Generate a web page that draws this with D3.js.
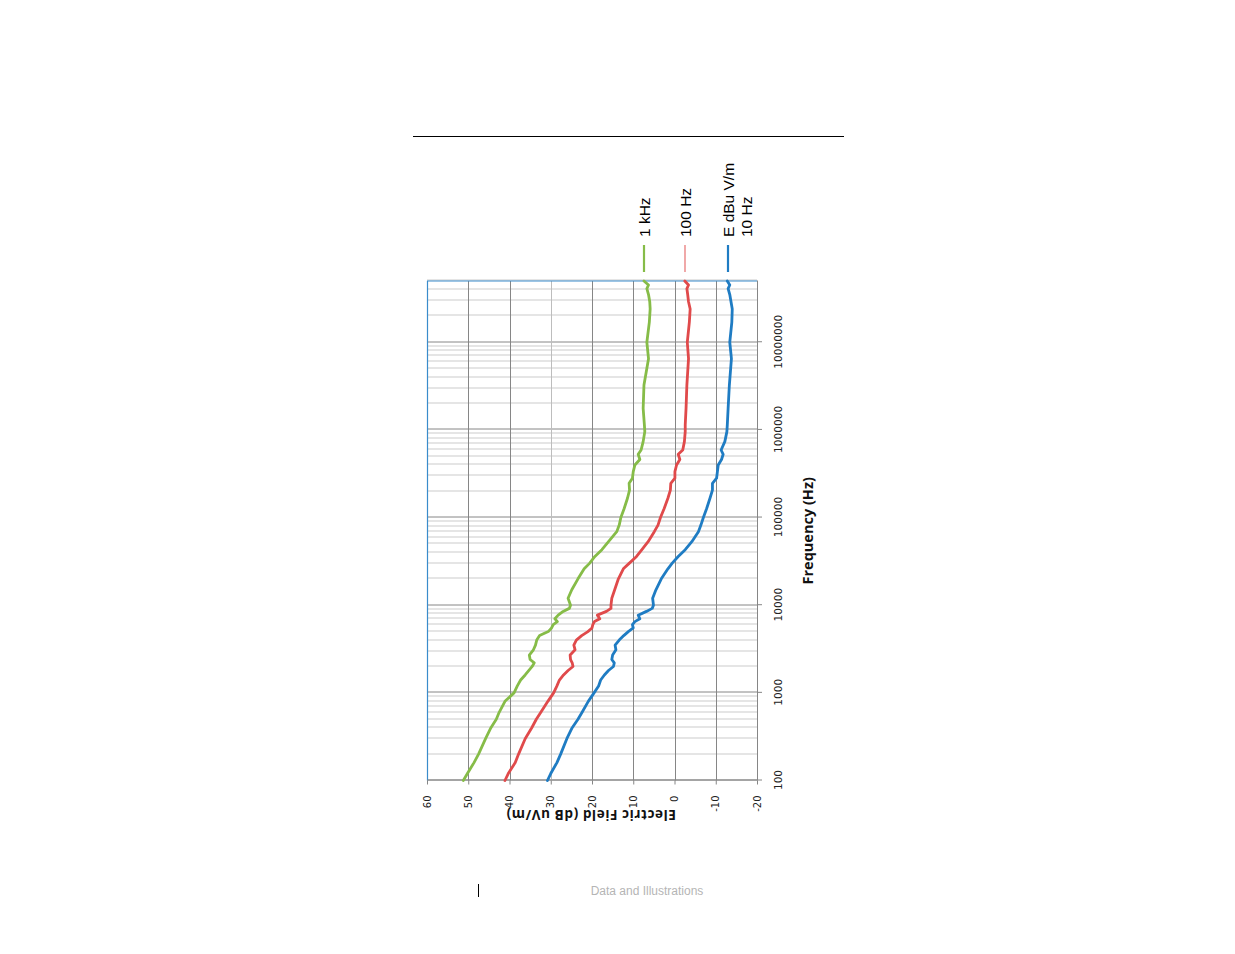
<!DOCTYPE html>
<html>
<head>
<meta charset="utf-8">
<script src="https://d3js.org/d3.v7.min.js"></script>
<style>
    html, body { margin: 0; padding: 0; background: #fff; }
    svg { display: block; }
</style>
</head>
<body>
<script>
// frequency points (Hz)
var freqHz = [100, 120, 160, 200, 300, 400, 500, 600, 800, 1000,
    1200, 1400, 1600, 1800, 2000, 2200, 2400, 2700, 3100, 3500,
    4000, 4500, 5000, 5500, 6000, 6500, 7000, 7700, 8500, 9200,
    10000, 12000, 15000, 20000, 26000, 30000, 36000, 43000, 53000, 69000,
    82000, 100000, 127000, 166000, 206000, 246000, 281000, 334000, 398000, 460000,
    527000, 590000, 735000, 956000, 1140000, 1760000, 3250000, 6500000, 10000000, 17000000,
    24000000, 29000000, 35000000, 41000000, 45000000, 50000000];

// electric field, dB uV/m
var kHz1 = [51.2, 50.2, 48.6, 47.5, 45.8, 44.5, 43.2, 42.5, 41.1, 38.9,
    38.1, 37.3, 36.2, 35.3, 34.5, 34.0, 35.0, 35.2, 34.2, 33.7,
    33.4, 32.7, 30.6, 29.8, 29.4, 28.4, 29.0, 28.2, 27.0, 25.5,
    25.2, 25.8, 24.9, 23.4, 21.9, 20.6, 19.3, 17.6, 16.0, 14.0,
    13.4, 13.0, 12.2, 11.4, 10.9, 11.0, 10.2, 10.0, 9.6, 8.4,
    8.8, 8.1, 7.6, 7.2, 7.3, 7.6, 7.4, 6.3, 6.7, 6.1,
    5.9, 6.0, 6.3, 6.7, 6.3, 7.4];

var hz100 = [41.1, 40.3, 38.6, 37.8, 36.2, 34.6, 33.5, 32.4, 30.7, 29.3,
    28.5, 27.9, 26.9, 25.8, 24.6, 24.8, 25.2, 25.3, 24.1, 24.4,
    23.8, 22.5, 21.0, 20.0, 19.8, 19.4, 18.1, 18.7, 16.5, 15.4,
    15.4, 15.2, 14.5, 13.6, 12.4, 11.0, 9.2, 7.9, 6.4, 4.9,
    4.0, 3.4, 2.5, 1.6, 1.0, 0.9, -0.1, -0.1, -0.5, -1.3,
    -0.9, -2.0, -2.4, -2.6, -2.6, -2.8, -3.0, -3.4, -3.1, -3.6,
    -3.8, -3.4, -3.2, -3.0, -3.4, -2.5];

var hz10 = [30.8, 30.0, 28.5, 27.6, 26.1, 24.8, 23.4, 22.4, 20.9, 19.5,
    18.4, 17.9, 17.0, 16.0, 14.8, 14.6, 15.2, 15.0, 14.2, 14.4,
    13.4, 12.3, 11.2, 10.0, 10.2, 9.6, 8.4, 8.8, 6.8, 5.4,
    5.1, 5.3, 4.5, 3.2, 1.6, 0.6, -0.9, -2.6, -4.2, -5.8,
    -6.4, -7.0, -7.8, -8.6, -9.2, -9.2, -10.2, -10.4, -10.6, -11.4,
    -11.8, -11.3, -12.2, -12.7, -12.8, -13.0, -13.3, -13.8, -13.4, -13.9,
    -14.0, -13.7, -13.4, -13.0, -13.4, -12.8];

var dbTicks = [60, 50, 40, 30, 20, 10, 0, -10, -20];
var freqTicks = [100, 1000, 10000, 100000, 1000000, 10000000];

var seriesNames = ['1 kHz', '100 Hz', 'E dBu V/m|10 Hz'];
var seriesColors = ['#86bc48', '#e04a4b', '#1f7cc3'];

(function () {
    'use strict';
    var svg = d3.select('body').append('svg')
        .attr('width', 1235)
        .attr('height', 954);

    // page furniture
    svg.append('line')
        .attr('x1', 413).attr('x2', 844)
        .attr('y1', 136.5).attr('y2', 136.5)
        .attr('stroke', '#000').attr('stroke-width', 1);
    svg.append('line')
        .attr('x1', 478.5).attr('x2', 478.5)
        .attr('y1', 884).attr('y2', 897)
        .attr('stroke', '#000').attr('stroke-width', 1);
    svg.append('text')
        .attr('x', 647).attr('y', 895)
        .attr('text-anchor', 'middle')
        .style('font-family', '"Liberation Sans", Arial, sans-serif')
        .style('font-size', '12px')
        .style('fill', '#b5b5b5')
        .text('Data and Illustrations');

    // chart is drawn in its normal orientation, then turned a quarter left
    var W = 499.5, H = 330;
    var g = svg.append('g').attr('transform', 'translate(427,780.5) rotate(-90)');

    var x = d3.scaleLog().domain([100, 5e7]).range([0, W]);
    var y = d3.scaleLinear().domain([-20, 60]).range([H, 0]);

    // minor frequency grid
    var minorTicks = x.ticks().filter(function (d) {
        return freqTicks.indexOf(d) < 0;
    });
    g.append('g').selectAll('line').data(minorTicks).enter().append('line')
        .attr('x1', function (d) { return Math.round(x(d)) + 0.5; })
        .attr('x2', function (d) { return Math.round(x(d)) + 0.5; })
        .attr('y1', 0).attr('y2', H)
        .attr('stroke', '#cbcbcb').attr('stroke-width', 1);

    // major frequency grid
    g.append('g').selectAll('line').data(freqTicks).enter().append('line')
        .attr('x1', function (d) { return Math.round(x(d)) + 0.5; })
        .attr('x2', function (d) { return Math.round(x(d)) + 0.5; })
        .attr('y1', 0).attr('y2', H)
        .attr('stroke', '#868686').attr('stroke-width', 1);

    // dB grid
    g.append('g').selectAll('line').data(dbTicks).enter().append('line')
        .attr('x1', 0).attr('x2', W)
        .attr('y1', function (d) { return Math.round(y(d)) + 0.5; })
        .attr('y2', function (d) { return Math.round(y(d)) + 0.5; })
        .attr('stroke', function (d) { return d === 30 ? '#bdbdbd' : '#868686'; })
        .attr('stroke-width', 1);

    // plot area border (top and right in chart frame)
    g.append('line')
        .attr('x1', 0).attr('x2', W).attr('y1', 0.5).attr('y2', 0.5)
        .attr('stroke', '#3a8ccb').attr('stroke-width', 1.2);
    g.append('line')
        .attr('x1', W).attr('x2', W).attr('y1', 0).attr('y2', H)
        .attr('stroke', '#3a8ccb').attr('stroke-width', 1.2);

    // axes
    var fmt = function (d) { return String(d); };
    var xAxis = g.append('g')
        .attr('transform', 'translate(0,' + H + ')')
        .call(d3.axisBottom(x).tickValues(freqTicks).tickFormat(fmt)
            .tickSizeInner(5).tickSizeOuter(0));
    var yAxis = g.append('g')
        .call(d3.axisLeft(y).tickValues(dbTicks).tickFormat(fmt)
            .tickSizeInner(4).tickSizeOuter(0));

    [xAxis, yAxis].forEach(function (a) {
        a.select('.domain').attr('stroke', '#868686');
        a.selectAll('.tick line').attr('stroke', '#868686');
        a.selectAll('text')
            .style('font-family', '"DejaVu Sans", Verdana, sans-serif')
            .attr('fill', '#222');
    });
    xAxis.selectAll('text').attr('y', 17).style('font-size', '10.6px');
    yAxis.selectAll('text').attr('x', -15).style('font-size', '10px');

    // axis titles
    g.append('text')
        .attr('x', W / 2).attr('y', H + 56)
        .attr('text-anchor', 'middle')
        .style('font-family', '"Open Sans", sans-serif')
        .style('font-weight', 700)
        .style('font-size', '14.5px')
        .style('fill', '#111')
        .text('Frequency (Hz)');
    g.append('text')
        .attr('transform', 'translate(-29.5,' + (H / 2 - 1) + ') rotate(-90)')
        .attr('text-anchor', 'middle')
        .style('font-family', '"Open Sans", sans-serif')
        .style('font-weight', 700)
        .style('font-size', '13.5px')
        .style('letter-spacing', '0.6px')
        .style('fill', '#111')
        .text('Electric Field (dB uV/m)');

    // series
    var series = [kHz1, hz100, hz10];
    var line = d3.line()
        .x(function (d, i) { return x(freqHz[i]); })
        .y(function (d) { return y(d); });
    g.append('g').selectAll('path').data(series).enter().append('path')
        .attr('d', line)
        .attr('fill', 'none')
        .attr('stroke', function (d, i) { return seriesColors[i]; })
        .attr('stroke-width', 2.8)
        .attr('stroke-linejoin', 'round')
        .attr('stroke-linecap', 'round');

    // legend (right of the plot in chart frame)
    var legendY = [217, 258, 301];
    var legend = g.append('g');
    seriesNames.forEach(function (name, i) {
        legend.append('line')
            .attr('x1', 508.5).attr('x2', 535.5)
            .attr('y1', legendY[i]).attr('y2', legendY[i])
            .attr('stroke', i === 1 ? '#e87a7a' : seriesColors[i])
            .attr('stroke-width', i === 1 ? 1.3 : 2.2);
        var t = legend.append('text')
            .attr('x', 543.5)
            .attr('y', legendY[i] + 5.5)
            .style('font-family', '"Liberation Sans", Arial, sans-serif')
            .style('font-size', '15.5px')
            .style('fill', '#000');
        name.split('|').forEach(function (part, k) {
            t.append('tspan')
                .attr('x', 543.5)
                .attr('dy', k === 0 ? 0 : 18)
                .text(part);
        });
    });
})();
</script>
</body>
</html>
